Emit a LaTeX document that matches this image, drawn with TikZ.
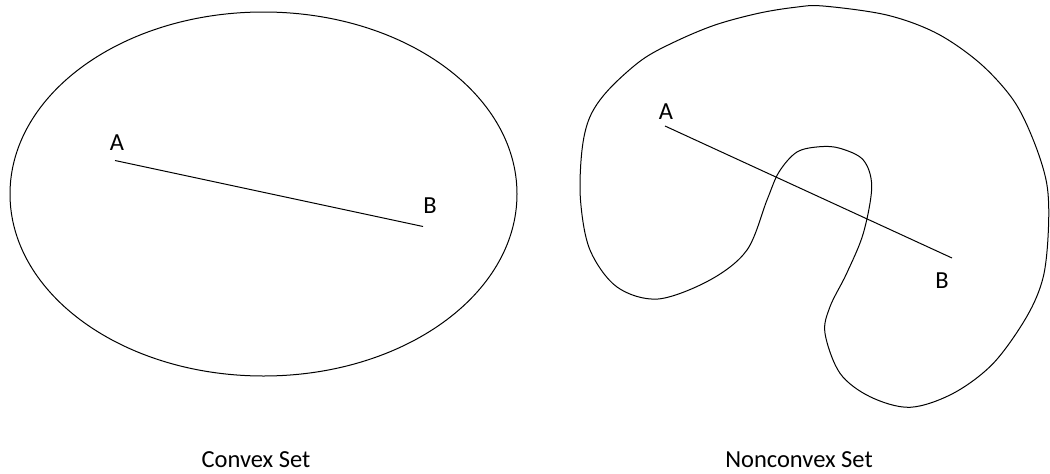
\documentclass[tikz,border=0pt]{standalone}
\usepackage{fontspec}
\setmainfont{Carlito}
\begin{document}
\begin{tikzpicture}[x=1pt,y=-1pt,
  lbl/.style={inner sep=0pt,font=\fontsize{24.5}{28}\selectfont},
  outline/.style={draw=black,line width=1pt},
  seg/.style={draw=black,line width=1pt}]
\useasboundingbox (0,0) rectangle (1050,474);
% convex set
\draw[outline] (263.5,194) ellipse [x radius=253.5, y radius=182];
\coordinate (ca) at (115,160.5);
\coordinate (cb) at (423,226.5);
\draw[seg] (ca) -- (cb);
\node[lbl] (la) at (117,143) {A};
\node[lbl] (lb) at (430,206) {B};
\node[lbl] (cap1) at (256,460) {Convex Set};
% nonconvex set
\draw[outline] plot[smooth cycle, tension=0.55] coordinates {
 (823,6) (886.7,15) (936.7,33.3) (980,63.3) (1013.3,100) (1033.3,140)
 (1046.7,183.3) (1048.5,226.7) (1043.3,276.7) (1026.7,316.7) (993.3,363.3)
 (953.3,393.3) (910,407.3) (870,396.7) (840,373.3) (825,333.3) (830,306.7)
 (846.7,273.3) (863.3,233.3) (871.7,186.7) (863.3,160) (840,148.3) (820,146.7)
 (797,152) (779,172) (767,200) (747,250) (710,280) (658,299) (617,287)
 (590,250) (580.5,200) (582,150) (590,116.7) (608.3,90) (641.7,60)
 (675,41.7) (715,25) (758.3,13.3) (795,7.3)};
\coordinate (na) at (665,126);
\coordinate (nb) at (952,258);
\draw[seg] (na) -- (nb);
\node[lbl] (la2) at (666,112) {A};
\node[lbl] (lb2) at (942,281) {B};
\node[lbl] (cap2) at (799,460) {Nonconvex Set};
\end{tikzpicture}
\end{document}
